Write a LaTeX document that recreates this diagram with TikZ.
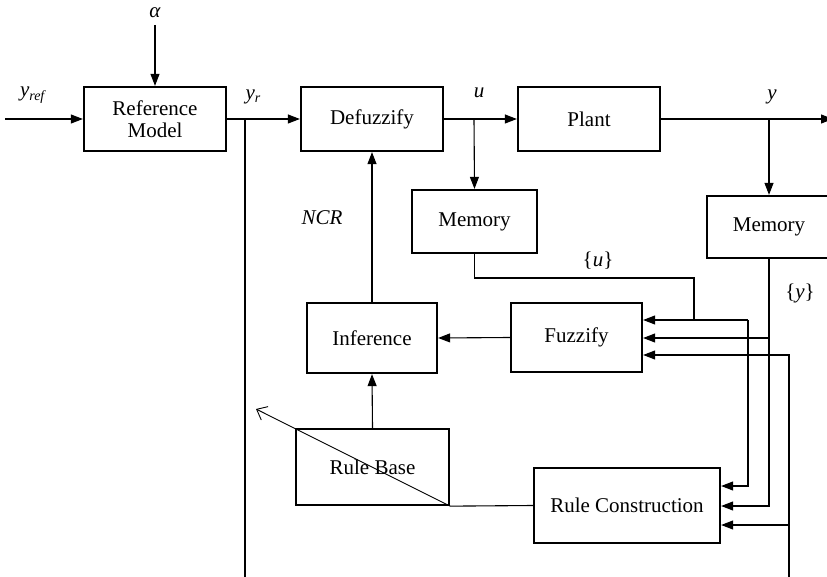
\documentclass[tikz,border=0pt]{standalone}
\usepackage{fontspec}
\setmainfont{Liberation Serif}
\usetikzlibrary{arrows.meta}
\begin{document}
\begin{tikzpicture}[x=1pt,y=-1pt,
  font=\fontsize{21}{23}\selectfont,
  blk/.style={draw,line width=2.3pt,inner sep=0pt,align=center},
  lbl/.style={inner sep=0pt},
  conn/.style={line width=1.1pt},
  arr/.style={conn,-{Triangle[length=12pt,width=9pt]}},
  barb/.style={line width=0.9pt,-{Straight Barb[length=9pt,width=15pt]}}]
\useasboundingbox (0,0) rectangle (827,577);
\clip (0,0) rectangle (827,577);
% blocks
\node[blk,minimum width=142pt,minimum height=64pt] (refm) at (155,119) {Reference\\[-1pt]Model};
\node[blk,minimum width=142pt,minimum height=64pt] (defz) at (372,119) {Defuzzify};
\node[blk,minimum width=142pt,minimum height=64pt] (plant) at (589,119) {Plant};
\node[blk,minimum width=125pt,minimum height=63pt] (mem1) at (474.5,221.5) {Memory};
\node[blk,minimum width=124pt,minimum height=62pt] (mem2) at (769,227) {Memory};
\node[blk,minimum width=131pt,minimum height=69pt] (fuzz) at (576.5,337.5) {Fuzzify};
\node[blk,minimum width=130pt,minimum height=70pt] (infer) at (372,338) {Inference};
\node[blk,minimum width=153pt,minimum height=76pt] (rbase) at (372.5,467) {Rule Base};
\node[blk,minimum width=186pt,minimum height=75pt] (rcons) at (627,505.5) {Rule Construction};
% labels
\node[lbl] (alpha) at (155,13) {\textit{α}};
\node[lbl] (yref) at (33,95) {\textit{y}\raisebox{-0.35ex}{\fontsize{14}{14}\selectfont\textit{ref}}};
\node[lbl] (yr) at (253,97) {\textit{y}\raisebox{-0.35ex}{\fontsize{14}{14}\selectfont\textit{r}}};
\node[lbl] (ulbl) at (479,93) {\textit{u}};
\node[lbl] (ylbl) at (772,97) {\textit{y}};
\node[lbl] (ncr) at (322,218) {\textit{NCR}};
\node[lbl] (ubr) at (598,261) {\{\textit{u}\}};
\node[lbl] (ybr) at (800,293) {\{\textit{y}\}};
% coordinates
\coordinate (in) at (5,119);
\coordinate (atop) at (155,25);
\coordinate (br1) at (245,119);
\coordinate (bot1) at (245,577);
\coordinate (br2) at (474,119);
\coordinate (br3) at (769,119);
\coordinate (out) at (833,119);
\coordinate (j1) at (694,278);
\coordinate (j2) at (694,320);
\coordinate (j3) at (748,320);
\coordinate (j4) at (748,486);
\coordinate (j5) at (769,506);
\coordinate (j6) at (769,338);
\coordinate (b2) at (789,577);
\coordinate (j7) at (789,355);
\coordinate (j8) at (789,525);
\coordinate (tip) at (256,409);
% connectors
\draw[arr] (in) -- (refm.west);
\draw[arr] (atop) -- (refm.north);
\draw[arr] (refm.east) -- (defz.west);
\draw[conn] (br1) -- (bot1);
\draw[arr] (defz.east) -- (plant.west);
\draw[arr] (br2) -- (mem1.north);
\draw[arr] (plant.east) -- (out);
\draw[arr] (br3) -- (mem2.north);
\draw[arr] (infer.north) -- (defz.south);
\draw[arr] (rbase.north) -- (infer.south);
\draw[arr] (fuzz.west) -- (infer.east);
\draw[conn] (mem1.south) |- (j1) -- (j2);
\draw[arr] (j3) -- (fuzz.east |- j3);
\draw[arr] (j3) -- (j4) -- (rcons.east |- j4);
\draw[arr] (mem2.south) -- (j5) -- (rcons.east |- j5);
\draw[arr] (j6) -- (fuzz.east |- j6);
\draw[arr] (b2) -- (j7) -- (fuzz.east |- j7);
\draw[arr] (j8) -- (rcons.east |- j8);
\draw[conn] (rcons.west) -- (rbase.south east);
\draw[barb] (rbase.south east) -- (tip);
\end{tikzpicture}
\end{document}
